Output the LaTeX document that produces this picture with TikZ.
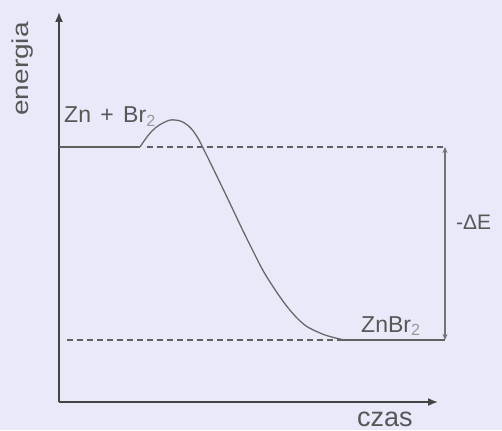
\documentclass[tikz,border=0pt]{standalone}
\usepackage{fontspec}
\setmainfont{Liberation Sans}
\usepackage{xcolor}
\usepackage{tikz}
\usetikzlibrary{arrows.meta,positioning}
\definecolor{bgcol}{RGB}{233,234,249}
\definecolor{ink}{RGB}{68,68,68}

\begin{document}
\begin{tikzpicture}[x=1pt, y=-1pt,
      axis/.style={-{Latex[length=10pt,width=8pt]}, line width=1.6pt, draw=ink},
      level/.style={line width=1.4pt, draw=ink!85},
      guide/.style={dash pattern=on 6pt off 4pt, line width=1.4pt, draw=ink!85},
      curve/.style={line width=1.3pt, draw=ink!80},
      gap/.style={{Stealth[length=6pt,width=5pt]}-{Stealth[length=6pt,width=5pt]}, line width=1.5pt, draw=ink!75},
      lbl/.style={text=ink!90, inner sep=0pt, font=\fontsize{23}{26}\selectfont},
    ]
      \fill[bgcol] (0,0) rectangle (502,430);
      \useasboundingbox (0,0) rectangle (502,430);

      % axes
      \coordinate (o) at (59,402);
      \coordinate (ytop) at (59,12);
      \coordinate (xend) at (438,402);
      \draw[axis] (o) -- (ytop);
      \draw[axis] (o) -- (xend);

      % energy levels
      \coordinate (r0) at (59,147);
      \coordinate (r1) at (140,147);
      \coordinate (r2) at (445,147);
      \coordinate (p0) at (67,340);
      \coordinate (p1) at (343,340);
      \coordinate (p2) at (445,340);
      \draw[level] (r0) -- (r1);
      \draw[guide] (147,147) -- (r2);
      \draw[guide] (p0) -- (p1);
      \draw[level] (p1) -- (p2);
      \draw[curve] plot[smooth, tension=0.7] coordinates {
        (140,147) (152,131) (165,122) (175,120) (186,124) (196,135) (206,154)
        (225,193) (250,245) (270,282) (297,318) (320,333) (345,340)};
      \draw[gap] (r2) -- (p2);

      \node[lbl, rotate=90, anchor=base] (energia) at (28,69) {\scalebox{1.22}[1]{energia}};
      \node[lbl, anchor=base west] (substrates) at (64,123) {Zn\kern3pt{} + \kern3pt{}Br\textsubscript{\textcolor{ink!55}{2}}};
      \node[lbl, anchor=base west] (product) at (361,332) {ZnBr\textsubscript{\textcolor{ink!55}{2}}};
      \node[lbl, font=\fontsize{21}{24}\selectfont, anchor=base west] (dE) at (456,229) {-ΔE};
      \node[lbl, font=\fontsize{27}{30}\selectfont, anchor=base west] (czas) at (357,426) {czas};
    \end{tikzpicture}
\end{document}
